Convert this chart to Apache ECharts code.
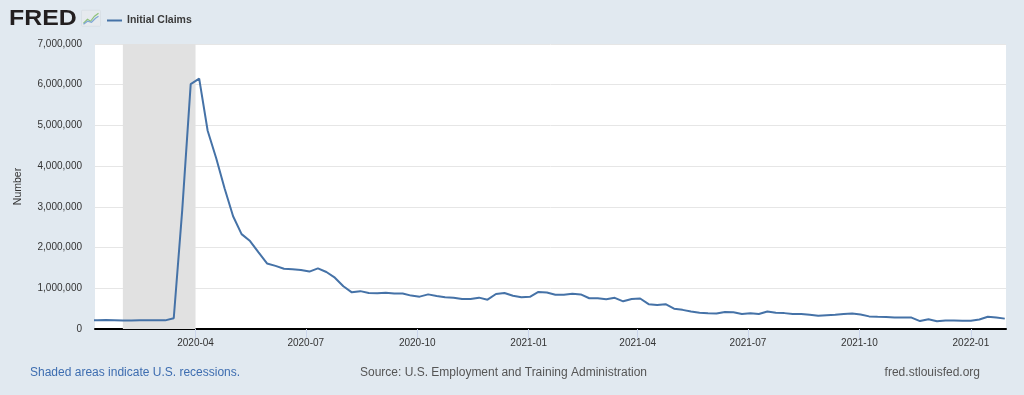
<!DOCTYPE html>
<html>
<head>
<meta charset="utf-8">
<script src="https://cdn.jsdelivr.net/npm/echarts@6/dist/echarts.min.js"></script>
<style>
html,body{margin:0;padding:0;background:#e1e9f0;}
#chart{width:1024px;height:395px;}
</style>
</head>
<body>
<div id="chart"></div>
<script>
// Weekly dates (week ending Saturday)
const weekDates = [
'2020-01-04','2020-01-11','2020-01-18','2020-01-25',
'2020-02-01','2020-02-08','2020-02-15','2020-02-22','2020-02-29',
'2020-03-07','2020-03-14','2020-03-21','2020-03-28',
'2020-04-04','2020-04-11','2020-04-18','2020-04-25',
'2020-05-02','2020-05-09','2020-05-16','2020-05-23','2020-05-30',
'2020-06-06','2020-06-13','2020-06-20','2020-06-27',
'2020-07-04','2020-07-11','2020-07-18','2020-07-25',
'2020-08-01','2020-08-08','2020-08-15','2020-08-22','2020-08-29',
'2020-09-05','2020-09-12','2020-09-19','2020-09-26',
'2020-10-03','2020-10-10','2020-10-17','2020-10-24','2020-10-31',
'2020-11-07','2020-11-14','2020-11-21','2020-11-28',
'2020-12-05','2020-12-12','2020-12-19','2020-12-26',
'2021-01-02','2021-01-09','2021-01-16','2021-01-23','2021-01-30',
'2021-02-06','2021-02-13','2021-02-20','2021-02-27',
'2021-03-06','2021-03-13','2021-03-20','2021-03-27',
'2021-04-03','2021-04-10','2021-04-17','2021-04-24',
'2021-05-01','2021-05-08','2021-05-15','2021-05-22','2021-05-29',
'2021-06-05','2021-06-12','2021-06-19','2021-06-26',
'2021-07-03','2021-07-10','2021-07-17','2021-07-24','2021-07-31',
'2021-08-07','2021-08-14','2021-08-21','2021-08-28',
'2021-09-04','2021-09-11','2021-09-18','2021-09-25',
'2021-10-02','2021-10-09','2021-10-16','2021-10-23','2021-10-30',
'2021-11-06','2021-11-13','2021-11-20','2021-11-27',
'2021-12-04','2021-12-11','2021-12-18','2021-12-25',
'2022-01-01','2022-01-08','2022-01-15','2022-01-22','2022-01-29'
];
// Initial claims, thousands
const claimsThousands = [
214,212,220,215,
210,208,212,216,215,
212,265,2920,6015,
6150,4870,4200,3450,
2770,2330,2160,1880,1610,
1550,1480,1470,1450,
1410,1490,1400,1260,
1050,900,930,885,880,
890,870,870,820,
795,850,810,780,770,
735,735,770,720,
860,885,815,780,
790,910,895,840,840,
865,850,755,755,
730,765,680,735,
750,610,590,610,
500,470,430,400,385,
380,420,410,370,
385,370,430,400,390,
370,370,350,325,
340,350,370,380,
355,310,300,295,280,
280,280,195,240,
190,210,210,205,
205,235,300,280,255
];
const axisStart = '2020-01-09';
const axisEnd = '2022-01-30';
const recessionStart = '2020-02-01';
const recessionEnd = '2020-04-01';
const yTicks = [0,1000000,2000000,3000000,4000000,5000000,6000000,7000000];
const seriesName = 'Initial Claims';
const yAxisTitle = 'Number';
const footLeft = 'Shaded areas indicate U.S. recessions.';
const footMid = 'Source: U.S. Employment and Training Administration';
const footRight = 'fred.stlouisfed.org';

const seriesData = weekDates.map((d,i)=>[d, claimsThousands[i]*1000]);
const FONT = '"Liberation Sans", Arial, Helvetica, sans-serif';

const chart = echarts.init(document.getElementById('chart'), null, {renderer:'canvas'});
chart.setOption({
  backgroundColor:'#e1e9f0',
  animation:false,
  textStyle:{fontFamily:FONT},
  grid:{left:95,right:18,top:44,bottom:66,show:true,backgroundColor:'#ffffff',borderWidth:0,containLabel:false},
  legend:{
    left:102, top:10, itemWidth:15, itemHeight:2, itemGap:6,
    icon:'rect',
    textStyle:{fontFamily:FONT,fontSize:10.5,fontWeight:'bold',color:'#3a3a3a'},
    data:[{name:seriesName, itemStyle:{color:'#4572a7'}}]
  },
  xAxis:{
    type:'time',
    min:axisStart, max:axisEnd,
    minInterval:91*86400000, maxInterval:92*86400000,
    axisLine:{show:true,lineStyle:{color:'#000',width:2}},
    axisTick:{show:true,length:10,lineStyle:{color:'#ccd6eb',width:1}},
    axisLabel:{
      fontFamily:FONT,fontSize:10,color:'#333',margin:9,
      showMinLabel:false, showMaxLabel:false,
      formatter:function(v){const d=new Date(v);const m=d.getMonth()+1;return d.getFullYear()+'-'+(m<10?'0'+m:m);},
      rich:{}
    },
    splitLine:{show:false}
  },
  yAxis:{
    type:'value', min:yTicks[0], max:yTicks[yTicks.length-1], interval:1000000,
    name:yAxisTitle, nameLocation:'middle', nameGap:71, nameRotate:90,
    nameTextStyle:{fontFamily:FONT,fontSize:10.5,color:'#333'},
    axisLine:{show:false}, axisTick:{show:false},
    axisLabel:{fontFamily:FONT,fontSize:10,color:'#333',margin:13,
      formatter:function(v){return v.toLocaleString('en-US');}},
    splitLine:{show:true,lineStyle:{color:'#e6e6e6',width:1}}
  },
  series:[{
    name:seriesName, type:'line', data:seriesData, showSymbol:false, symbol:'none',
    lineStyle:{color:'#4572a7',width:2}, itemStyle:{color:'#4572a7'},
    z:3, clip:true,
    markArea:{silent:true, itemStyle:{color:'#e1e1e1'},
      data:[[{xAxis:recessionStart},{xAxis:recessionEnd}]]}
  }],
  graphic:[
    {type:'text', x:9, y:8, scaleX:1.13, style:{text:'FRED', font:'bold 22px '+FONT, fill:'#231f20'}},
    {type:'group', left:81, top:10, children:[
      {type:'rect', shape:{x:0,y:0,width:19,height:16,r:1}, style:{fill:'#e6eaee',stroke:'#cfd6dd',lineWidth:0.5}},
      {type:'polyline', shape:{points:[[2,13],[6,9],[9,11],[13,6],[17,3]]}, style:{stroke:'#8fc27a',lineWidth:1.2,fill:null}},
      {type:'polyline', shape:{points:[[2,14],[6,11],[10,12],[14,8],[17,6]]}, style:{stroke:'#7fa7d4',lineWidth:1.2,fill:null}}
    ]},
    {type:'text', left:30, top:367, style:{text:footLeft, font:'12px '+FONT, fill:'#3d6db0'}},
    {type:'text', left:360, top:367, style:{text:footMid, font:'12px '+FONT, fill:'#555'}},
    {type:'text', right:44, top:367, style:{text:footRight, font:'12px '+FONT, fill:'#555'}}
  ]
});
</script>
</body>
</html>
